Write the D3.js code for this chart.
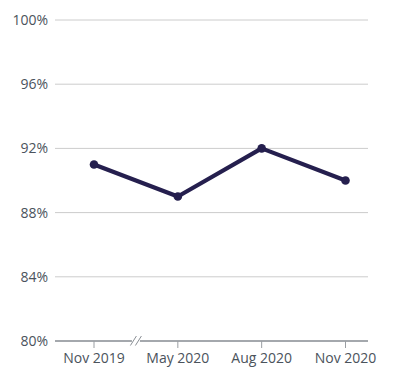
<!DOCTYPE html>
<html><head><meta charset="utf-8">
<script src="https://cdn.jsdelivr.net/npm/d3@7"></script>
<style>body{margin:0;background:#fff}svg{display:block}</style>
</head><body>
<svg id="chart" width="396" height="386"></svg>
<script>
const categories = ["Nov 2019", "May 2020", "Aug 2020", "Nov 2020"];
const values = [91, 89, 92, 90];
const yTicks = [80, 84, 88, 92, 96, 100];

(function () {
const svg = d3.select("#chart");
const font = "'Open Sans', sans-serif";
const plotLeft = 55, plotRight = 368, plotTop = 20, plotBottom = 341;

const y = d3.scaleLinear().domain([80, 100]).range([plotBottom, plotTop]);
const x = d3.scalePoint().domain(categories).range([94, 345.5]);

// gridlines
svg.append("g").selectAll("line").data(yTicks.filter(d => d > 80)).join("line")
  .attr("x1", plotLeft).attr("x2", plotRight)
  .attr("y1", d => y(d)).attr("y2", d => y(d))
  .attr("stroke", "#cccccc").attr("stroke-width", 1);

// y labels
svg.append("g").selectAll("text").data(yTicks).join("text")
  .attr("x", 48).attr("y", d => y(d)).attr("dy", "0.35em")
  .attr("text-anchor", "end")
  .attr("font-family", font).attr("font-size", 14).attr("fill", "#4b535c")
  .text(d => d + "%");

// x axis line
svg.append("line").attr("x1", plotLeft).attr("x2", plotRight)
  .attr("y1", plotBottom).attr("y2", plotBottom)
  .attr("stroke", "#4b535c").attr("stroke-width", 1.2);

// x ticks
svg.append("g").selectAll("line").data(categories).join("line")
  .attr("x1", d => x(d)).attr("x2", d => x(d))
  .attr("y1", plotBottom).attr("y2", plotBottom + 7)
  .attr("stroke", "#9a9ea3").attr("stroke-width", 1);

svg.append("g").selectAll("text").data(categories).join("text")
  .attr("x", d => x(d)).attr("y", 363)
  .attr("text-anchor", "middle")
  .attr("font-family", font).attr("font-size", 14).attr("fill", "#4b535c")
  .text(d => d);

// break mark
const bx = (x(categories[0]) + x(categories[1])) / 2;
svg.append("rect").attr("x", bx - 4).attr("y", plotBottom - 2).attr("width", 8).attr("height", 4).attr("fill", "#fff");
[-2.5, 2.5].forEach(o => {
  svg.append("line")
    .attr("x1", bx + o - 3).attr("y1", plotBottom + 4.5)
    .attr("x2", bx + o + 3).attr("y2", plotBottom - 5)
    .attr("stroke", "#8a8f95").attr("stroke-width", 1);
});

// line
const data = categories.map((c, i) => ({c, v: values[i]}));
svg.append("path").datum(data)
  .attr("d", d3.line().x(d => x(d.c)).y(d => y(d.v)))
  .attr("fill", "none").attr("stroke", "#251f4e").attr("stroke-width", 4.2)
  .attr("stroke-linejoin", "round");

svg.append("g").selectAll("circle").data(data).join("circle")
  .attr("cx", d => x(d.c)).attr("cy", d => y(d.v)).attr("r", 4.3)
  .attr("fill", "#251f4e");
})();
</script>
</body></html>
